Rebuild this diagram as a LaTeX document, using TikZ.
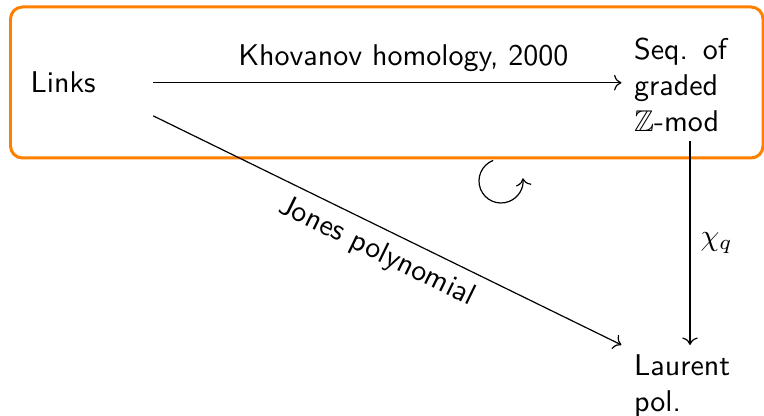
\documentclass[tikz,border=0pt]{standalone}
\usepackage{amsmath,amssymb}
\usepackage{tikz}
\usetikzlibrary{arrows.meta,positioning,calc}
\tikzset{
  cell/.style={align=left, text width=37.3pt, inner xsep=4pt, inner ysep=3pt, font=\sffamily},
  src/.style={align=left, text width=40.7pt, minimum height=21.7pt, inner sep=0pt, font=\sffamily},
  frame/.style={draw=orange, line width=1pt, rounded corners=4pt},
  arrow/.style={->},
  lbl/.style={font=\sffamily}
}
\begin{document}
\begin{tikzpicture}[x=0.01172cm, y=0.01172cm]
  \useasboundingbox (0,0) rectangle (764,416);
  \clip (0,0) rectangle (764,416);
  \draw[frame] (10.5,258) rectangle (763,409);
  \node[src, anchor=base west] (links) at (30,323) {Links};
  \node[cell, anchor=south] (seq) at (690,275) {Seq. of\\graded\\$\mathbb{Z}$-mod};
  \node[cell, below=68pt of seq] (laurent) {Laurent\\pol.};
  \draw[arrow] (links.east) -- (links.east -| seq.west)
    node[lbl, pos=0.534, above] {Khovanov homology, 2000};
  \draw[arrow] (seq.south) -- (laurent.north) node[midway, right] {$\chi_q$};
  \draw[arrow] (links.south east) -- (laurent.north west)
    node[lbl, midway, below, sloped] {Jones polynomial};
  % commutativity
  \coordinate (turn) at (501,235);
  \draw[arrow] (turn) ++(111:22) arc (111:367:22);
\end{tikzpicture}
\end{document}
